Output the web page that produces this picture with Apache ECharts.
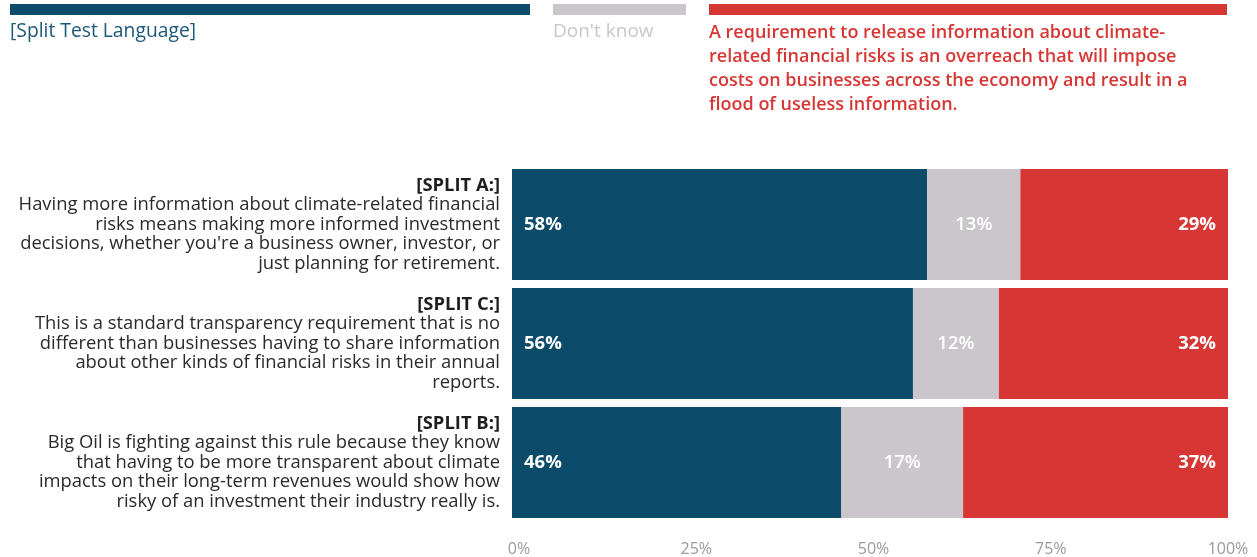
<!DOCTYPE html>
<html>
<head>
<meta charset="utf-8">
<script src="https://cdn.jsdelivr.net/npm/echarts@6/dist/echarts.min.js"></script>
<style>
  html, body { margin: 0; padding: 0; background: #fff; }
  #chart { width: 1257px; height: 557px; }
</style>
</head>
<body>
<div id="chart"></div>
<script>
// Row headings and wrapped statement text
const splitHeads = ['[SPLIT A:]', '[SPLIT C:]', '[SPLIT B:]'];
const splitTexts = [
  'Having more information about climate-related financial\nrisks means making more informed investment\ndecisions, whether you\'re a business owner, investor, or\njust planning for retirement.',
  'This is a standard transparency requirement that is no\ndifferent than businesses having to share information\nabout other kinds of financial risks in their annual\nreports.',
  'Big Oil is fighting against this rule because they know\nthat having to be more transparent about climate\nimpacts on their long-term revenues would show how\nrisky of an investment their industry really is.'
];

// Response shares (%)
const splitLanguage = [58, 56, 46];
const dontKnow = [13, 12, 17];
const overreach = [29, 32, 37];

// Legend entries
const legendNames = [
  '[Split Test Language]',
  "Don't know",
  'A requirement to release information about climate-\nrelated financial risks is an overreach that will impose\ncosts on businesses across the economy and result in a\nflood of useless information.'
];

const tickLabels = ['0%', '25%', '50%', '75%', '100%'];

const BLUE = '#0c4c6a';
const GRAY = '#cbc6cc';
const RED = '#d63734';
const FONT = '"Open Sans", Lato, sans-serif';

const categories = splitHeads.map((h, i) => h + '\n' + splitTexts[i]);

const chart = echarts.init(document.getElementById('chart'), null, { renderer: 'canvas' });

function barSeries(name, data, color, pos, weight) {
  return {
    name: name,
    type: 'bar',
    stack: 'total',
    barWidth: 111,
    data: data,
    itemStyle: { color: color },
    label: {
      show: true,
      position: pos,
      distance: 12,
      formatter: p => p.value + '%',
      color: '#ffffff',
      fontFamily: FONT,
      fontSize: 18.5,
      fontWeight: weight
    },
    emphasis: { disabled: true },
    animation: false
  };
}

const option = {
  animation: false,
  grid: [
    { left: 512, right: 29, top: 165, bottom: 35 },
    { left: 519, right: 29, top: 165, bottom: 35 }
  ],
  xAxis: [
    {
      type: 'value', gridIndex: 0, min: 0, max: 100, interval: 25,
      axisLabel: { show: false }, axisLine: { show: false },
      axisTick: { show: false }, splitLine: { show: false }
    },
    {
      type: 'value', gridIndex: 1, min: 0, max: 100, interval: 25,
      axisLine: { show: false }, axisTick: { show: false }, splitLine: { show: false },
      axisLabel: {
        formatter: v => tickLabels[v / 25],
        color: '#9a9a9a', fontFamily: FONT, fontSize: 16, margin: 21
      }
    }
  ],
  yAxis: [
    {
      type: 'category', gridIndex: 0, inverse: true, data: categories,
      axisLine: { show: false }, axisTick: { show: false },
      axisLabel: {
        margin: 12,
        align: 'right',
        formatter: v => {
          const idx = v.indexOf('\n');
          const head = v.slice(0, idx);
          const rest = v.slice(idx + 1).split('\n').map(l => '{t|' + l + '}').join('\n');
          return '{h|' + head + '}\n' + rest;
        },
        rich: {
          h: { fontFamily: FONT, fontSize: 18.4, fontWeight: 'bold', color: '#1e1e1e', lineHeight: 19.5, align: 'right' },
          t: { fontFamily: FONT, fontSize: 18.4, color: '#2a2a2a', lineHeight: 19.5, align: 'right' }
        }
      }
    },
    { type: 'category', gridIndex: 1, show: false, data: categories }
  ],
  series: [
    barSeries(legendNames[0], splitLanguage, BLUE, 'insideLeft', 'bold'),
    barSeries(legendNames[1], dontKnow, GRAY, 'inside', 600),
    barSeries(legendNames[2], overreach, RED, 'insideRight', 'bold')
  ],
  graphic: [
    { type: 'rect', left: 10, top: 4, shape: { width: 520, height: 11 }, style: { fill: BLUE } },
    { type: 'rect', left: 553, top: 4, shape: { width: 133, height: 11 }, style: { fill: GRAY } },
    { type: 'rect', left: 709, top: 4, shape: { width: 518, height: 11 }, style: { fill: RED } },
    {
      type: 'text', left: 10, top: 22,
      style: { text: legendNames[0], fill: '#1b5878', font: '500 19.3px ' + FONT }
    },
    {
      type: 'text', left: 553, top: 22,
      style: { text: legendNames[1], fill: '#cac5cb', font: '500 19px ' + FONT }
    },
    {
      type: 'text', left: 709, top: 21,
      style: { text: legendNames[2], fill: RED, font: '600 18px ' + FONT, lineHeight: 24 }
    }
  ]
};

chart.setOption(option);
</script>
</body>
</html>
